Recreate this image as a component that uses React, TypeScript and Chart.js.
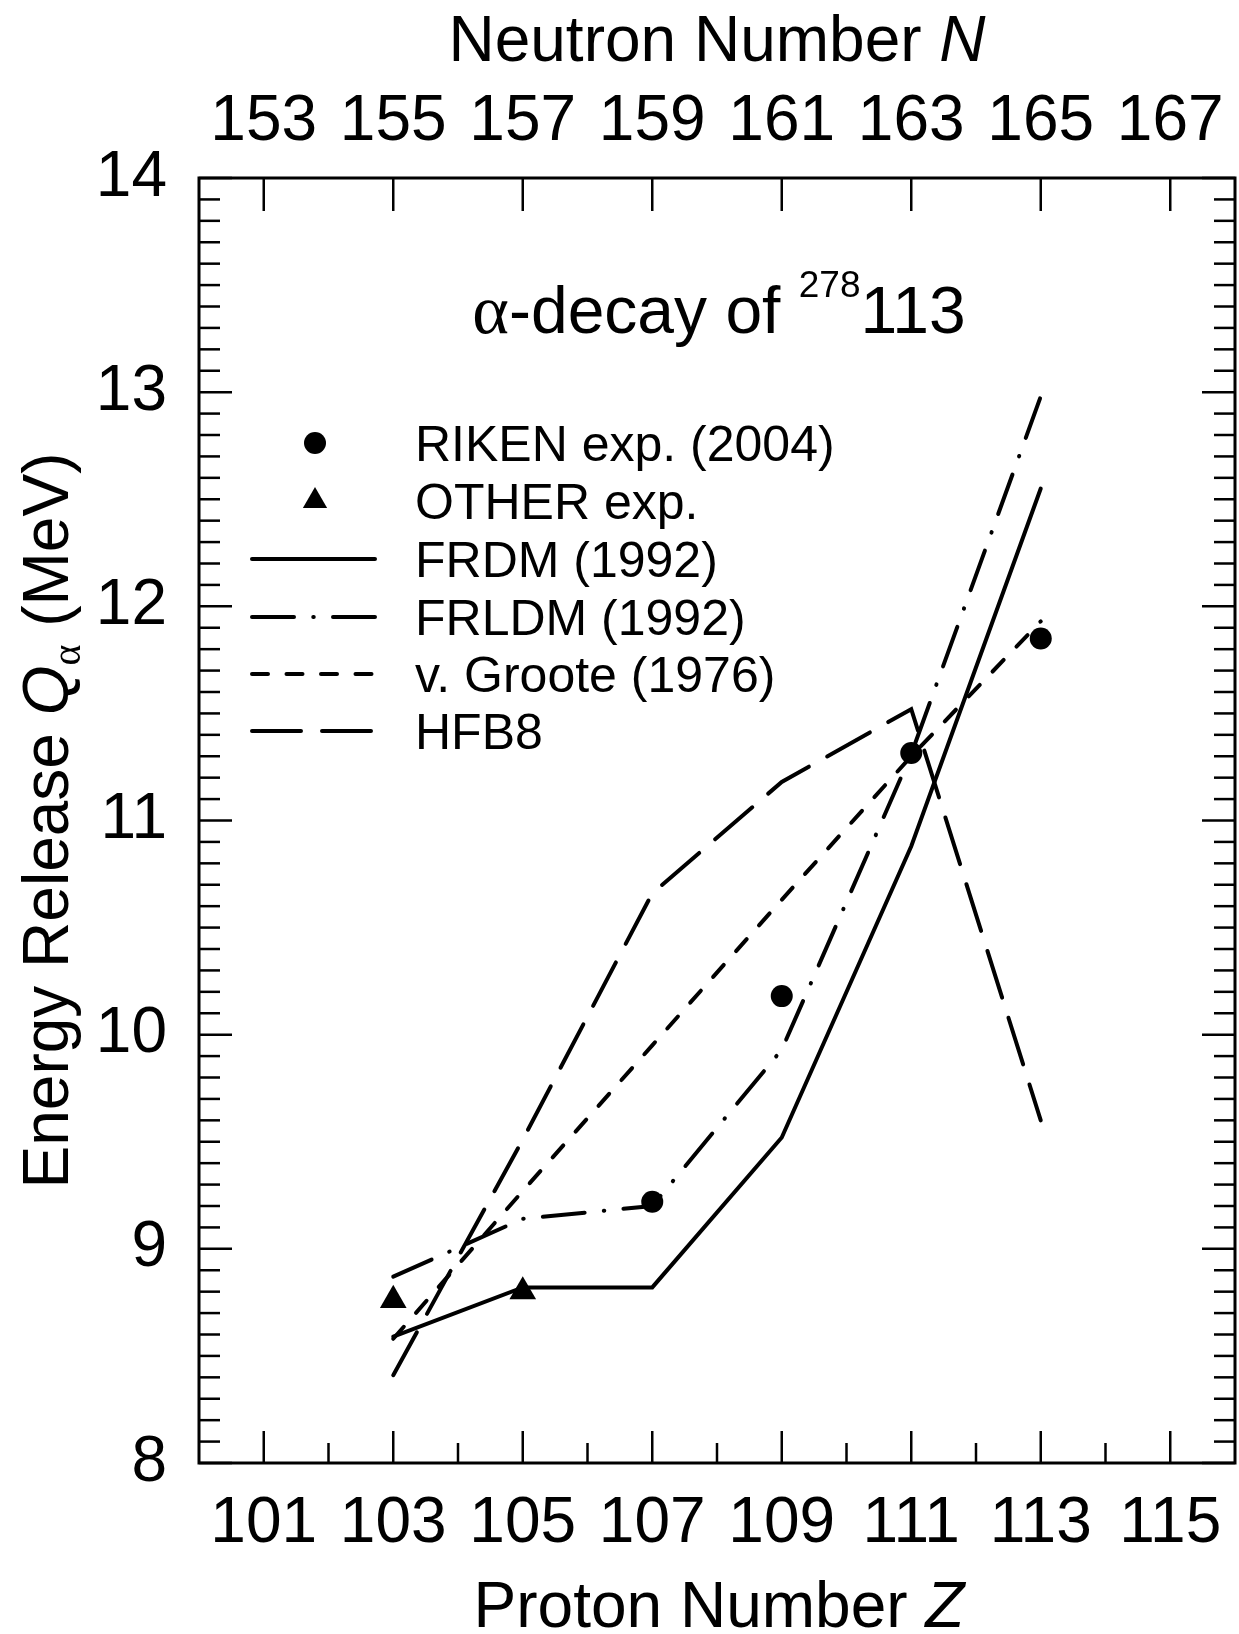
import React, { useEffect, useRef } from 'react';
import { Chart, registerables } from 'chart.js';

Chart.register(...registerables);

// ---------------- data ----------------
const Z_MODEL = [103, 105, 107, 109, 111, 113];
const FRDM_1992 = [8.59, 8.82, 8.82, 9.52, 10.88, 12.55];
const FRLDM_1992 = [8.87, 9.14, 9.2, 9.93, 11.31, 12.98];
const V_GROOTE_1976 = [8.58, 9.27, 9.95, 10.63, 11.3, 11.93];
const HFB8 = [8.41, 9.51, 10.66, 11.18, 11.52, 9.6];

const RIKEN_Z = [107, 109, 111, 113];
const RIKEN_Q = [9.22, 10.18, 11.315, 11.85];
const OTHER_Z = [103, 105];
const OTHER_Q = [8.76, 8.8];

const Z_TICKS = [101, 103, 105, 107, 109, 111, 113, 115];
const Z_MINOR_TICKS = [102, 104, 106, 108, 110, 112, 114];
const N_TICKS = [153, 155, 157, 159, 161, 163, 165, 167];
const Q_TICKS = [8, 9, 10, 11, 12, 13, 14];
const N_MINUS_Z = 52; // A = 278 chain: N = Z + 52

// ---------------- styles ----------------
const FONT = '"Liberation Sans", Arial, Helvetica, sans-serif';
const SERIF = '"Liberation Serif", "Times New Roman", serif';
const LW = 4;
const DASH_FRDM: number[] = [];
const DASH_FRLDM = [42, 19.25, 0.5, 19.25];
const DASH_GROOTE = [16, 18.5];
const DASH_HFB8 = [49, 21];

const toXY = (xs: number[], ys: number[]) => xs.map((x, i) => ({ x, y: ys[i] }));

type Run = { text: string; font: string; dy?: number };
function drawRuns(ctx: CanvasRenderingContext2D, runs: Run[], x: number, y: number, align: 'center' | 'left') {
  const widths = runs.map((r) => {
    ctx.font = r.font;
    return ctx.measureText(r.text).width;
  });
  const total = widths.reduce((a, b) => a + b, 0);
  let cx = align === 'center' ? x - total / 2 : x;
  ctx.textAlign = 'left';
  ctx.textBaseline = 'alphabetic';
  runs.forEach((r, i) => {
    ctx.font = r.font;
    ctx.fillText(r.text, cx, y + (r.dy || 0));
    cx += widths[i];
  });
}

const framePlugin = {
  id: 'frameTicks',
  afterDraw(chart: any) {
    const ctx: CanvasRenderingContext2D = chart.ctx;
    const { left, right, top, bottom } = chart.chartArea;
    const xs = chart.scales.x;
    const xt = chart.scales.xTop;
    const ys = chart.scales.y;
    ctx.save();
    ctx.strokeStyle = '#000';
    ctx.lineCap = 'butt';
    ctx.lineWidth = 2.5;
    const seg = (x1: number, y1: number, x2: number, y2: number) => {
      ctx.beginPath();
      ctx.moveTo(x1, y1);
      ctx.lineTo(x2, y2);
      ctx.stroke();
    };
    Z_TICKS.forEach((v) => {
      const px = xs.getPixelForValue(v);
      seg(px, bottom, px, bottom - 32);
    });
    Z_MINOR_TICKS.forEach((v) => {
      const px = xs.getPixelForValue(v);
      seg(px, bottom, px, bottom - 20);
    });
    N_TICKS.forEach((v) => {
      const px = xt.getPixelForValue(v);
      seg(px, top, px, top + 33);
    });
    const qMin = Q_TICKS[0];
    const qMax = Q_TICKS[Q_TICKS.length - 1];
    for (let i = 0; i <= (qMax - qMin) * 10; i++) {
      const v = qMin + i / 10;
      const py = ys.getPixelForValue(v);
      const len = i % 10 === 0 ? 33 : 21;
      seg(left, py, left + len, py);
      seg(right, py, right - len, py);
    }
    ctx.lineWidth = 3;
    ctx.strokeRect(left, top, right - left, bottom - top);
    ctx.restore();
  },
};

const textPlugin = {
  id: 'texts',
  afterDraw(chart: any) {
    const ctx: CanvasRenderingContext2D = chart.ctx;
    const { left, right, top, bottom } = chart.chartArea;
    const cx = (left + right) / 2;
    ctx.save();
    ctx.fillStyle = '#000';
    // top axis title
    drawRuns(
      ctx,
      [
        { text: 'Neutron Number ', font: `64px ${FONT}` },
        { text: 'N', font: `italic 64px ${FONT}` },
      ],
      cx,
      61,
      'center'
    );
    // bottom axis title
    drawRuns(
      ctx,
      [
        { text: 'Proton Number ', font: `64px ${FONT}` },
        { text: 'Z', font: `italic 64px ${FONT}` },
      ],
      cx + 2,
      1627,
      'center'
    );
    // y axis title
    ctx.save();
    ctx.translate(68, (top + bottom) / 2);
    ctx.rotate(-Math.PI / 2);
    drawRuns(
      ctx,
      [
        { text: 'Energy Release ', font: `64px ${FONT}` },
        { text: 'Q', font: `italic 64px ${FONT}` },
        { text: 'α', font: `40px ${SERIF}`, dy: 12 },
        { text: ' (MeV)', font: `64px ${FONT}` },
      ],
      0,
      0,
      'center'
    );
    ctx.restore();
    // chart title inside
    drawRuns(
      ctx,
      [
        { text: 'α', font: `70px ${SERIF}` },
        { text: '-decay of ', font: `66px ${FONT}` },
        { text: '278', font: `37px ${FONT}`, dy: -36 },
        { text: '113', font: `66px ${FONT}` },
      ],
      cx + 2,
      333,
      'center'
    );
    ctx.restore();
  },
};

const legendPlugin = {
  id: 'customLegend',
  afterDraw(chart: any) {
    const ctx: CanvasRenderingContext2D = chart.ctx;
    const rowY = [443, 501, 559, 617, 674, 731];
    const x0 = 252;
    const x1 = 375;
    const xm = 315;
    const tx = 415;
    const datasets = chart.data.datasets;
    ctx.save();
    ctx.fillStyle = '#000';
    ctx.strokeStyle = '#000';
    // markers
    ctx.beginPath();
    ctx.arc(xm, rowY[0], 11, 0, Math.PI * 2);
    ctx.fill();
    const r = 14;
    ctx.beginPath();
    for (let k = 0; k < 3; k++) {
      const a = (k * 2 * Math.PI) / 3;
      const px = xm + Math.sin(a) * r;
      const py = rowY[1] - Math.cos(a) * r;
      if (k === 0) ctx.moveTo(px, py);
      else ctx.lineTo(px, py);
    }
    ctx.closePath();
    ctx.fill();
    // lines
    ctx.lineWidth = LW;
    ctx.lineCap = 'round';
    [DASH_FRDM, DASH_FRLDM, DASH_GROOTE, DASH_HFB8].forEach((d, i) => {
      ctx.setLineDash(d);
      ctx.beginPath();
      const yy = rowY[i + 2];
      ctx.moveTo(x0, yy);
      ctx.lineTo(x1, yy);
      ctx.stroke();
    });
    ctx.setLineDash([]);
    ctx.font = `50px ${FONT}`;
    ctx.textAlign = 'left';
    ctx.textBaseline = 'alphabetic';
    datasets.forEach((ds: any, i: number) => {
      ctx.fillText(ds.label, tx, rowY[i] + 18);
    });
    ctx.restore();
  },
};

const zeroPad = (s: any) => {
  s.paddingLeft = 0;
  s.paddingRight = 0;
  s.paddingTop = 0;
  s.paddingBottom = 0;
};

export default function App() {
  const ref = useRef<HTMLCanvasElement>(null);
  useEffect(() => {
    document.body.style.margin = '0';
    document.body.style.overflow = 'hidden';
    const canvas = ref.current as HTMLCanvasElement;
    const lineDs = (label: string, ys: number[], dash: number[]) => ({
      label,
      data: toXY(Z_MODEL, ys),
      showLine: true,
      borderColor: '#000',
      backgroundColor: '#000',
      borderWidth: LW,
      borderDash: dash,
      borderCapStyle: 'round',
      borderJoinStyle: 'miter',
      tension: 0,
      fill: false,
      pointRadius: 0,
      pointHoverRadius: 0,
    });
    const tickFont = { family: FONT, size: 64 };
    const chart = new Chart(canvas, {
      type: 'scatter',
      data: {
        datasets: [
          {
            label: 'RIKEN exp. (2004)',
            data: toXY(RIKEN_Z, RIKEN_Q),
            showLine: false,
            pointStyle: 'circle',
            pointRadius: 11,
            pointBorderWidth: 0,
            pointBackgroundColor: '#000',
            borderColor: '#000',
            backgroundColor: '#000',
          },
          {
            label: 'OTHER exp.',
            data: toXY(OTHER_Z, OTHER_Q),
            showLine: false,
            pointStyle: 'triangle',
            pointRadius: 15.4,
            pointBorderWidth: 0,
            pointBackgroundColor: '#000',
            borderColor: '#000',
            backgroundColor: '#000',
          },
          lineDs('FRDM (1992)', FRDM_1992, DASH_FRDM),
          lineDs('FRLDM (1992)', FRLDM_1992, DASH_FRLDM),
          lineDs('v. Groote (1976)', V_GROOTE_1976, DASH_GROOTE),
          lineDs('HFB8', HFB8, DASH_HFB8),
        ] as any,
      },
      options: {
        responsive: false,
        animation: false,
        devicePixelRatio: 1,
        events: [],
        layout: { autoPadding: false, padding: { left: 0, right: 4, top: 0, bottom: 0 } },
        plugins: {
          legend: { display: false },
          tooltip: { enabled: false },
          title: { display: false },
        },
        scales: {
          x: {
            type: 'linear',
            axis: 'x',
            position: 'bottom',
            min: 100,
            max: 116,
            afterBuildTicks: (s: any) => {
              s.ticks = Z_TICKS.map((v) => ({ value: v }));
            },
            afterFit: (s: any) => {
              s.height = 171;
              zeroPad(s);
            },
            grid: { display: false, drawTicks: false },
            border: { display: false },
            ticks: {
              font: tickFont,
              color: '#000',
              padding: 23,
              maxRotation: 0,
              minRotation: 0,
              autoSkip: false,
              callback: (v: any) => String(v),
            },
          },
          xTop: {
            type: 'linear',
            axis: 'x',
            position: 'top',
            min: 100 + N_MINUS_Z,
            max: 116 + N_MINUS_Z,
            afterBuildTicks: (s: any) => {
              s.ticks = N_TICKS.map((v) => ({ value: v }));
            },
            afterFit: (s: any) => {
              s.height = 178;
              zeroPad(s);
            },
            grid: { display: false, drawTicks: false },
            border: { display: false },
            ticks: {
              font: tickFont,
              color: '#000',
              padding: 17.5,
              maxRotation: 0,
              minRotation: 0,
              autoSkip: false,
              callback: (v: any) => String(v),
            },
          },
          y: {
            type: 'linear',
            axis: 'y',
            position: 'left',
            min: 8,
            max: 14,
            afterBuildTicks: (s: any) => {
              s.ticks = Q_TICKS.map((v) => ({ value: v }));
            },
            afterFit: (s: any) => {
              s.width = 199;
              zeroPad(s);
            },
            grid: { display: false, drawTicks: false },
            border: { display: false },
            ticks: {
              font: tickFont,
              color: '#000',
              padding: 32,
              autoSkip: false,
              callback: (v: any) => String(v),
            },
          },
        },
      } as any,
      plugins: [framePlugin, textPlugin, legendPlugin],
    });
    return () => chart.destroy();
  }, []);
  return (
    <canvas
      ref={ref}
      width={1239}
      height={1634}
      style={{ display: 'block', width: '1239px', height: '1634px' }}
    />
  );
}
